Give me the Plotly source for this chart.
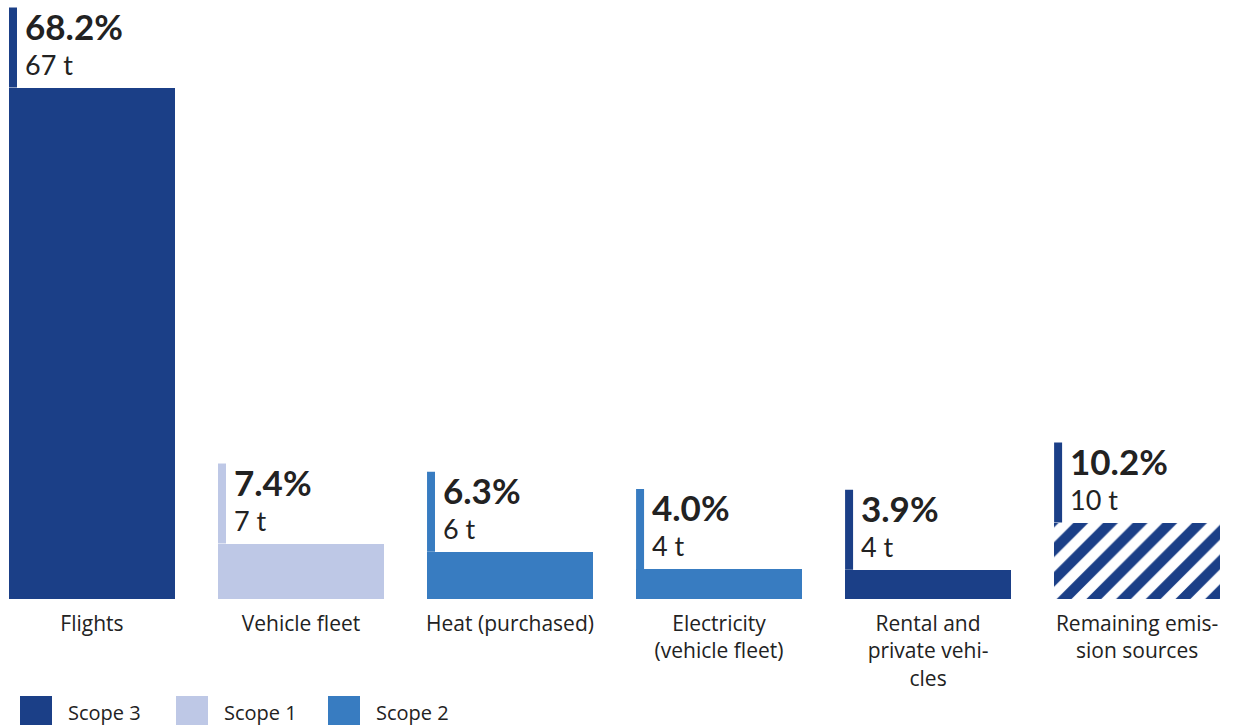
import plotly.graph_objects as go

categories = ["Flights", "Vehicle fleet", "Heat (purchased)", "Electricity<br>(vehicle fleet)",
              "Rental and<br>private vehi-<br>cles", "Remaining emis-<br>sion sources"]
percent = [68.2, 7.4, 6.3, 4.0, 3.9, 10.2]
tonnes = [67, 7, 6, 4, 4, 10]
scopes = ["Scope 3", "Scope 1", "Scope 2", "Scope 2", "Scope 3", "Other"]
legend_items = ["Scope 3", "Scope 1", "Scope 2"]

DARK = "#1b3f87"
LIGHT = "#bec8e6"
MID = "#387cc1"
scope_colors = {"Scope 3": DARK, "Scope 1": LIGHT, "Scope 2": MID, "Other": DARK}
TXT = "#222222"
FONT = "Lato"
FONT2 = "Open Sans"

BAR_W = 0.794
xs = list(range(len(categories)))

fig = go.Figure()
colors = [scope_colors[s] for s in scopes]
shapes_pat = ["" if s != "Other" else "/" for s in scopes]
fig.add_trace(go.Bar(
    x=xs, y=percent, width=BAR_W,
    marker=dict(color=colors,
                line=dict(width=0),
                pattern=dict(shape=shapes_pat, fgcolor=DARK, bgcolor="white",
                             size=21, solidity=0.5, fillmode="replace", fgopacity=1)),
    showlegend=False, hoverinfo="skip"))

shapes = []
annotations = []
for i, (p, t, c) in enumerate(zip(percent, tonnes, colors)):
    left = i - BAR_W / 2
    shapes.append(dict(type="rect", xref="x", yref="y", xsizemode="pixel", ysizemode="pixel",
                       xanchor=left, yanchor=p, x0=0, x1=8, y0=0, y1=80,
                       fillcolor=c, line=dict(width=0)))
    label = ("<span style='font-size:35px'><b>%.1f%%</b></span><br>"
             "<span style='font-size:27px'>%d t</span>") % (p, t)
    annotations.append(dict(x=left, y=p, xref="x", yref="y", xanchor="left", yanchor="bottom",
                            xshift=14, yshift=5, text=label, showarrow=False, align="left",
                            font=dict(family=FONT, size=27, color=TXT)))

# legend (bottom, manual)
PLOT_H = 599
leg_x = [20, 176, 328]
leg_colors = [DARK, LIGHT, MID]
for lx, lab, lc in zip(leg_x, legend_items, leg_colors):
    shapes.append(dict(type="rect", xref="paper", yref="paper",
                       x0=lx / 1237, x1=(lx + 32) / 1237,
                       y0=(PLOT_H - 730) / PLOT_H, y1=(PLOT_H - 696) / PLOT_H,
                       fillcolor=lc, line=dict(width=0)))
    annotations.append(dict(x=(lx + 46) / 1237, y=(PLOT_H - 712) / PLOT_H, xref="paper", yref="paper",
                            xanchor="left", yanchor="middle", text=lab, showarrow=False,
                            font=dict(family=FONT2, size=20, color=TXT)))

fig.update_layout(
    width=1237, height=725,
    margin=dict(l=0, r=0, t=0, b=126),
    plot_bgcolor="white", paper_bgcolor="white",
    shapes=shapes, annotations=annotations,
    xaxis=dict(range=[-0.440, 5.478], tickvals=xs, ticktext=categories, showgrid=False,
               zeroline=False, showline=False, ticks="", ticklabelstandoff=10,
               tickfont=dict(family=FONT2, size=21, color=TXT)),
    yaxis=dict(range=[0, 599 / 7.5], visible=False, showgrid=False, zeroline=False),
    bargap=0,
)

fig.write_html("out.html")
